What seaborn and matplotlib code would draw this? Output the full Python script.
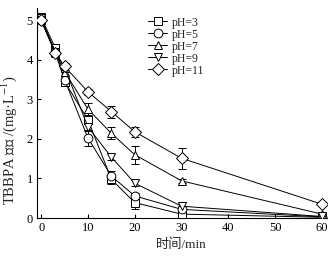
import matplotlib
matplotlib.use("Agg")
import matplotlib.pyplot as plt
import seaborn as sns
import pandas as pd

sns.set_theme(style="ticks")
plt.rcParams['font.family'] = ['Liberation Serif', 'Noto Sans CJK SC']
plt.rcParams['mathtext.fontset'] = 'stix'

time_min = [0, 3, 5, 10, 15, 20, 30, 60]
labels = ['pH=3', 'pH=5', 'pH=7', 'pH=9', 'pH=11']
markers = ['s', 'o', '^', 'v', 'D']

conc_ph3 = [5.07, 4.3, 3.45, 2.48, 0.98, 0.39, 0.1, 0.02]
conc_ph5 = [5.0, 4.17, 3.5, 2.02, 1.06, 0.56, 0.22, 0.03]
conc_ph7 = [5.0, 4.2, 3.7, 2.75, 2.14, 1.6, 0.94, 0.1]
conc_ph9 = [5.05, 4.2, 3.8, 2.3, 1.54, 0.88, 0.3, 0.04]
conc_ph11 = [5.0, 4.17, 3.83, 3.19, 2.69, 2.18, 1.51, 0.35]

err_ph3 = [0.1, 0.1, 0.12, 0.1, 0.12, 0.15, 0.1, 0.03]
err_ph5 = [0.1, 0.1, 0.12, 0.2, 0.12, 0.08, 0.08, 0.03]
err_ph7 = [0.08, 0.1, 0.1, 0.15, 0.15, 0.23, 0.05, 0.03]
err_ph9 = [0.08, 0.1, 0.1, 0.1, 0.08, 0.08, 0.1, 0.03]
err_ph11 = [0.08, 0.1, 0.08, 0.08, 0.15, 0.13, 0.27, 0.05]

concs = [conc_ph3, conc_ph5, conc_ph7, conc_ph9, conc_ph11]
errs = [err_ph3, err_ph5, err_ph7, err_ph9, err_ph11]

rows = []
for lab, c, e in zip(labels, concs, errs):
    for t, v, s in zip(time_min, c, e):
        rows.append({'t': t, 'c': v, 'err': s, 'pH': lab})
df = pd.DataFrame(rows)

fig = plt.figure(figsize=(3.33, 2.59), dpi=100)
ax = fig.add_axes([0.111, 0.158, 0.87, 0.81])

for lab, m in zip(labels, markers):
    d = df[df['pH'] == lab]
    ax.errorbar(d['t'], d['c'], yerr=d['err'], fmt='none', ecolor='black',
                elinewidth=0.7, capsize=2.8, capthick=0.7, zorder=2)
    ms = 6.3 if m != 'D' else 5.8
    sns.lineplot(data=d, x='t', y='c', ax=ax, color='black', linewidth=0.7,
                 marker=m, markersize=ms, markerfacecolor='white',
                 markeredgecolor='black', markeredgewidth=0.7, label=lab,
                 zorder=3)

ax.set_xlim(-0.9, 61)
ax.set_ylim(0, 5.3)
ax.set_xticks([0, 10, 20, 30, 40, 50, 60])
ax.set_yticks([0, 1, 2, 3, 4, 5])
ax.tick_params(direction='in', length=3, width=0.8, labelsize=9,
               colors='black', pad=3)
for side in ['top', 'right']:
    ax.spines[side].set_visible(False)
for side in ['left', 'bottom']:
    ax.spines[side].set_linewidth(0.8)
    ax.spines[side].set_color('black')

ax.set_xlabel('时间/min', fontsize=9.5)
ax.set_ylabel('TBBPA 浓度 /(mg·L$^{-1}$)', fontsize=10.5)
ax.xaxis.set_label_coords(0.5, -0.095)
ax.yaxis.set_label_coords(-0.062, 0.37)

ax.legend(loc='upper left', bbox_to_anchor=(0.356, 1.0), frameon=False,
          fontsize=8.5, handlelength=1.6, handletextpad=0.4,
          labelspacing=0.0, borderpad=0.2)

fig.savefig('out.png', dpi=100)
